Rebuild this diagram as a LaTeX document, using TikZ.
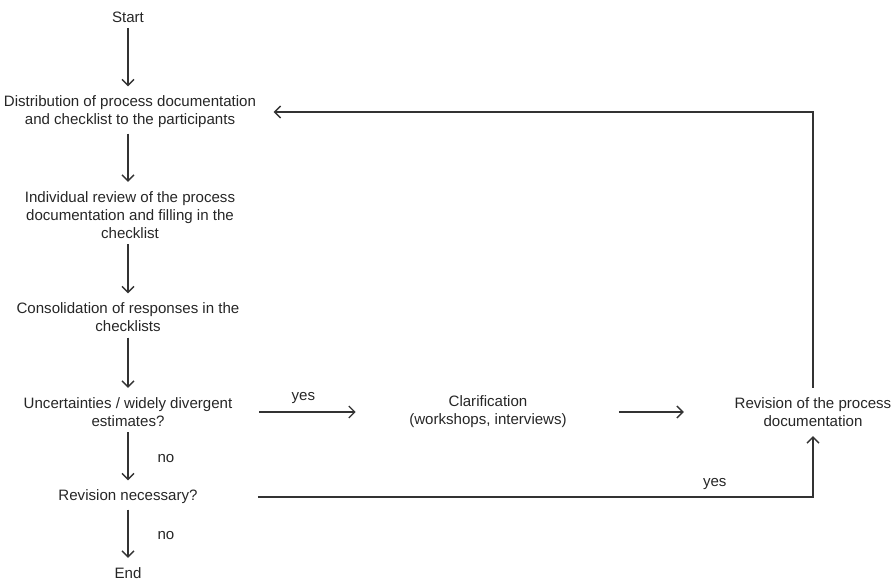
\documentclass[tikz,border=0pt]{standalone}
\usepackage{fontspec}
\setmainfont{Liberation Sans}
\usepackage{tikz}
\usetikzlibrary{
  arrows.meta,
  positioning
}
\definecolor{flowgray}{RGB}{38,38,38}
\tikzset{
  stepnode/.style={align=center, text=flowgray, inner sep=1pt,
    font=\fontsize{11.3}{13.5}\selectfont},
  lbl/.style={text=flowgray, inner sep=1pt,
    font=\fontsize{11.3}{13.5}\selectfont},
  arr/.style={-{Straight Barb[length=4.5pt,width=9pt]}, line width=1pt, draw=black!80},
}

\begin{document}
\begin{tikzpicture}[x=0.75pt, y=-0.75pt]
  \useasboundingbox (0,0) rectangle (894,582);

  % Main spine
  \node[stepnode] (start) at (128,17) {Start};
  \node[stepnode] (distrib) at (130,112)
    {Distribution of process documentation\\and checklist to the participants};
  \node[stepnode] (review) at (130,215)
    {Individual review of the process\\documentation and filling in the\\checklist};
  \node[stepnode] (consol) at (128,317.5)
    {Consolidation of responses in the\\checklists};
  \node[stepnode] (uncert) at (128,412)
    {Uncertainties / widely divergent\\estimates?};
  \node[stepnode] (revnec) at (128,497) {Revision necessary?};
  \node[stepnode] (finish) at (128,573) {End};

  % Side branch
  \node[stepnode] (clar) at (488,412)
    {Clarification\\(workshops, interviews)};
  \node[stepnode] (revdoc) at (813,412)
    {Revision of the process\\documentation};

  % Arrows on spine
  \foreach \a/\b in {start/distrib, distrib/review, review/consol,
                     consol/uncert, uncert/revnec, revnec/finish} {
    \draw[arr, shorten <=3pt, shorten >=6pt] (\a.south -| start) -- (\b.north -| start);
  }
  \path (uncert) -- (revnec) node[midway, right=21pt, lbl] {no};
  \path (revnec) -- (finish) node[midway, right=21pt, lbl] {no};

  % Branch arrows
  \draw[arr, shorten <=19pt, shorten >=39pt] (uncert.east) -- (clar.west)
    node[pos=0.4, above=5pt, lbl] {yes};
  \draw[arr, shorten <=38pt, shorten >=37pt] (clar.east) -- (revdoc.west);
  \draw[arr, shorten <=44pt, shorten >=6pt] (revnec.east) -| (revdoc.south)
    node[pos=0.42, above=4pt, lbl] {yes};
  \draw[arr, shorten <=6pt, shorten >=12pt] (revdoc.north) |- (distrib.east);
\end{tikzpicture}
\end{document}
